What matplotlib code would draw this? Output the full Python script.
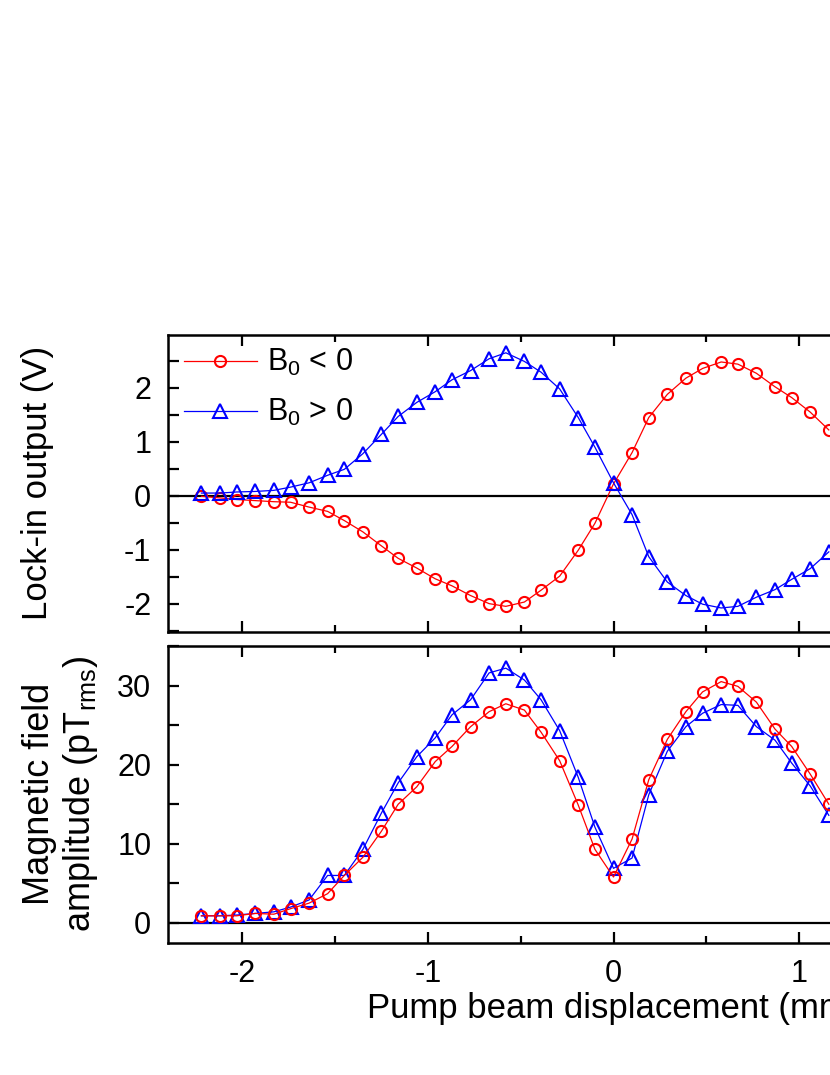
import matplotlib
matplotlib.use("Agg")
import matplotlib.pyplot as plt
from matplotlib.ticker import MultipleLocator

plt.rcParams['font.family'] = ['Liberation Sans', 'DejaVu Sans']
plt.rcParams['mathtext.fontset'] = 'custom'
plt.rcParams['mathtext.rm'] = 'Liberation Sans'
plt.rcParams['mathtext.it'] = 'Liberation Sans'
plt.rcParams['axes.unicode_minus'] = False

# ---- data ----
displacement = [-2.22, -2.12, -2.03, -1.93, -1.83, -1.74, -1.64, -1.54, -1.45, -1.35,
                -1.25, -1.16, -1.06, -0.96, -0.87, -0.77, -0.67, -0.58, -0.48, -0.39,
                -0.29, -0.19, -0.10, 0.00, 0.10, 0.19, 0.29, 0.39, 0.48, 0.58,
                0.67, 0.77, 0.87, 0.96, 1.06, 1.16]

lockin_neg = [-0.01, -0.04, -0.07, -0.09, -0.11, -0.12, -0.21, -0.29, -0.46, -0.67,
              -0.93, -1.16, -1.34, -1.54, -1.67, -1.85, -2.00, -2.05, -1.97, -1.75,
              -1.49, -1.01, -0.51, 0.22, 0.80, 1.45, 1.88, 2.18, 2.36, 2.48,
              2.44, 2.27, 2.02, 1.82, 1.55, 1.22]
lockin_pos = [0.05, 0.05, 0.07, 0.08, 0.10, 0.16, 0.24, 0.38, 0.49, 0.78,
              1.14, 1.47, 1.73, 1.93, 2.15, 2.32, 2.54, 2.65, 2.49, 2.29,
              1.98, 1.45, 0.90, 0.24, -0.35, -1.13, -1.60, -1.85, -2.01, -2.08,
              -2.05, -1.88, -1.74, -1.55, -1.35, -1.04]

field_neg = [0.9, 0.9, 0.9, 1.2, 1.1, 1.8, 2.5, 3.7, 6.0, 8.3,
             11.6, 15.0, 17.2, 20.4, 22.3, 24.8, 26.7, 27.7, 26.9, 24.1,
             20.5, 14.9, 9.3, 5.8, 10.6, 18.1, 23.2, 26.7, 29.2, 30.5,
             29.9, 27.9, 24.5, 22.3, 18.8, 15.0]
field_pos = [0.9, 0.9, 1.0, 1.2, 1.4, 2.0, 2.9, 6.0, 6.0, 9.3,
             13.9, 17.7, 21.0, 23.4, 26.3, 28.2, 31.6, 32.2, 30.7, 28.2,
             24.3, 18.4, 12.1, 6.9, 8.2, 16.2, 21.7, 24.8, 26.5, 27.6,
             27.5, 24.8, 23.1, 20.2, 17.3, 13.6]

label_neg = r'B$_0$ < 0'
label_pos = r'B$_0$ > 0'

W, H = 830, 1075
fig = plt.figure(figsize=(W / 100, H / 100), dpi=100)

left = 168 / W
width = 891 / W
ax1 = fig.add_axes([left, (H - 631.7) / H, width, 296.7 / H])
ax2 = fig.add_axes([left, (H - 942.7) / H, width, 296.7 / H])

red = '#ff0000'
blue = '#0000ff'
circ_kw = dict(color=red, marker='o', ms=8, mfc='none', mec=red, mew=1.5, lw=0.9)
tri_kw = dict(color=blue, marker='^', ms=9.5, mfc='none', mec=blue, mew=1.5, lw=0.9)

fs = 22

for ax in (ax1, ax2):
    ax.axhline(0, color='black', lw=1.6, zorder=1)
    ax.set_xlim(-2.4, 2.4)
    ax.xaxis.set_major_locator(MultipleLocator(1))
    ax.xaxis.set_minor_locator(MultipleLocator(0.5))
    ax.tick_params(which='both', direction='in', top=True, right=True,
                   labelsize=fs, width=1.6, pad=12)
    ax.tick_params(which='major', length=8)
    ax.tick_params(which='minor', length=5)
    ax.tick_params(axis='y', which='both', length=8)
    for s in ax.spines.values():
        s.set_linewidth(1.8)

# top panel
ax1.plot(displacement, lockin_neg, label=label_neg, zorder=3, **circ_kw)
ax1.plot(displacement, lockin_pos, label=label_pos, zorder=4, **tri_kw)
ax1.set_ylim(-2.52, 2.98)
ax1.yaxis.set_major_locator(MultipleLocator(1))
ax1.yaxis.set_minor_locator(MultipleLocator(0.5))
ax1.tick_params(labelbottom=False)
ax1.set_ylabel('Lock-in output (V)', fontsize=25)
ax1.yaxis.set_label_coords(-(168 - 54) / 891, 0.5)
ax1.legend(loc='upper left', frameon=False, fontsize=fs, handlelength=2.4,
           handletextpad=0.33, borderaxespad=0.0, labelspacing=0.62,
           bbox_to_anchor=(0.004, 1.0))

# bottom panel
ax2.plot(displacement, field_pos, zorder=3, **tri_kw)
ax2.plot(displacement, field_neg, zorder=4, **circ_kw)
ax2.set_ylim(-2.5, 35)
ax2.yaxis.set_major_locator(MultipleLocator(10))
ax2.yaxis.set_minor_locator(MultipleLocator(5))
ax2.set_ylabel('Magnetic field\namplitude (pT$_{\\rm rms}$)', fontsize=26,
               linespacing=1.15)
ax2.yaxis.set_label_coords(-(168 - 100) / 891, 0.5)
ax2.set_xlabel('Pump beam displacement (mm)', fontsize=25, labelpad=2)

fig.savefig('out.png', dpi=100)
